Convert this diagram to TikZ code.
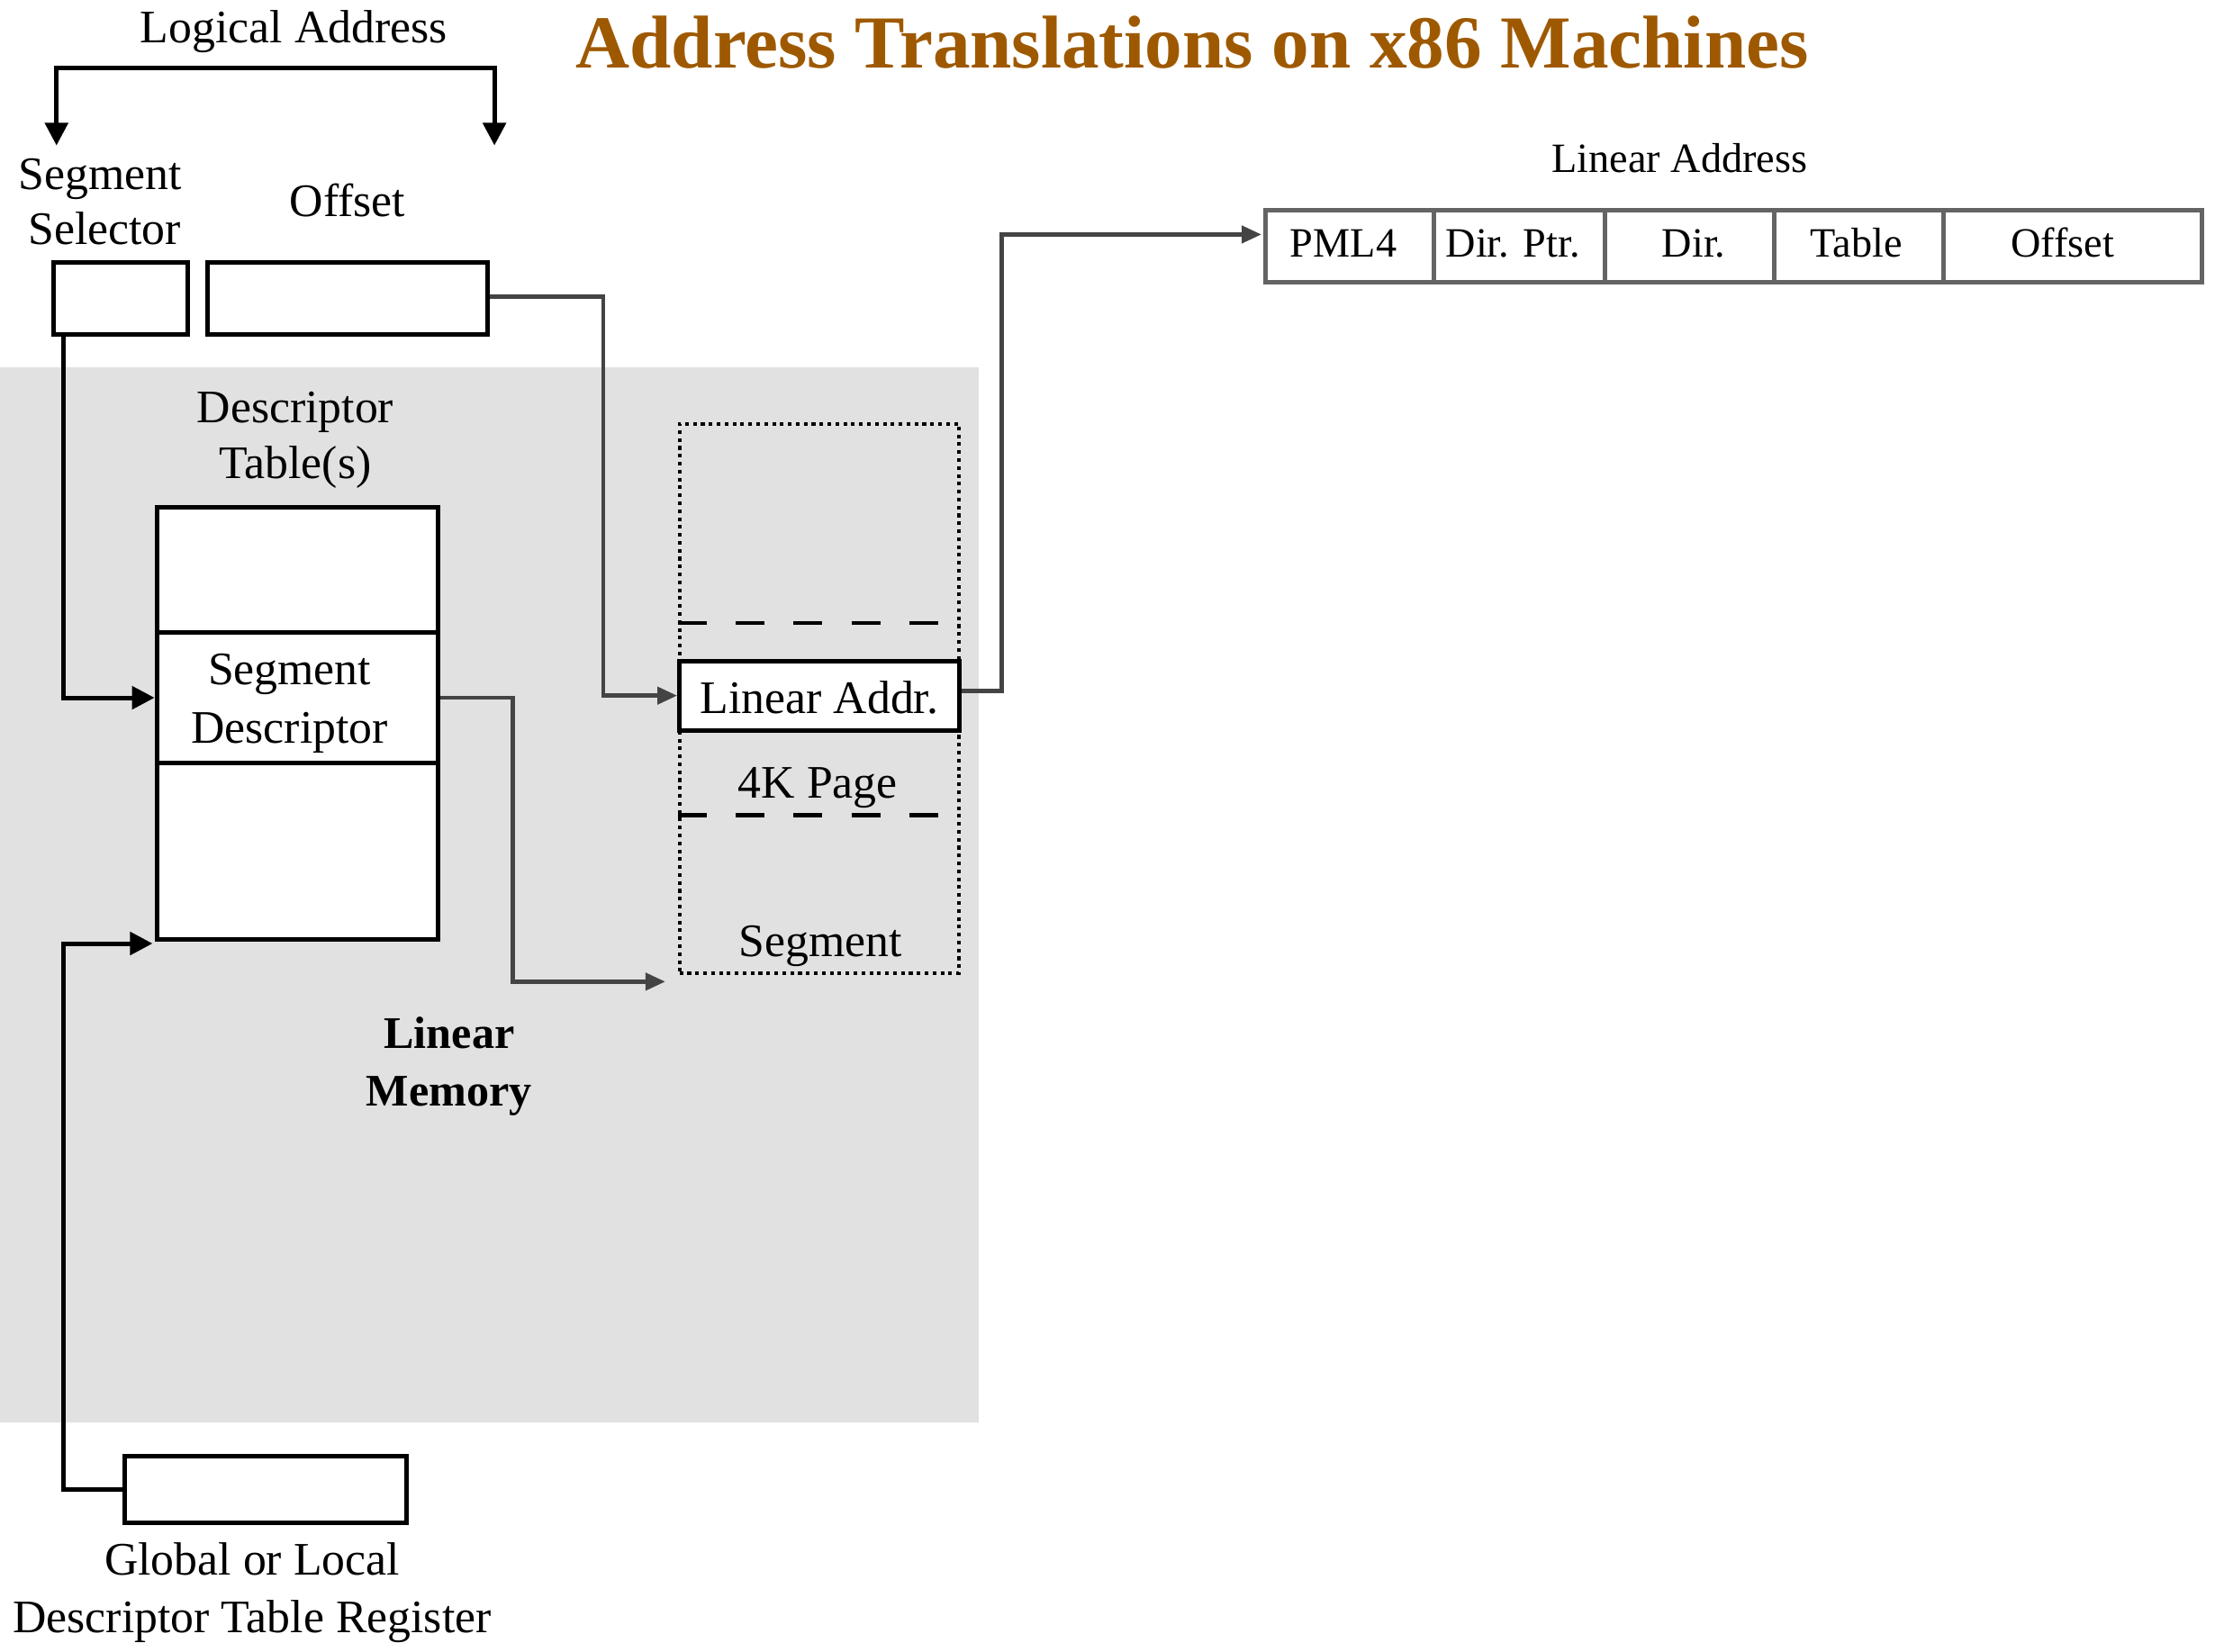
\documentclass[tikz,border=0pt]{standalone}
\usepackage{fontspec}
\setmainfont{Liberation Serif}
\usetikzlibrary{arrows.meta}

\definecolor{titlebrown}{RGB}{158,89,0}
\definecolor{memgray}{RGB}{225,225,225}
\definecolor{wiregray}{RGB}{68,68,68}
\definecolor{cellgray}{RGB}{100,100,100}

\begin{document}
\begin{tikzpicture}[x=1pt,y=-1pt,
  lbl/.style={font=\fontsize{33}{40}\selectfont, inner sep=0pt, anchor=base},
  boldlbl/.style={font=\fontsize{32}{40}\selectfont\bfseries, inner sep=0pt, anchor=base},
  small/.style={font=\fontsize{29.5}{33}\selectfont, inner sep=0pt, anchor=base},
  box/.style={draw=black, line width=3.2pt, fill=white, inner sep=0pt},
  cell/.style={draw=cellgray, line width=3.2pt, fill=white, inner sep=0pt, minimum height=51pt},
  blkarrow/.style={draw=black, line width=3.2pt, -{Triangle[length=16pt,width=16pt]}},
  grayarrow/.style={draw=wiregray, line width=3pt, -{Triangle[length=14pt,width=12pt]}},
]
\useasboundingbox (0,0) rectangle (1568,1169);

% linear memory area
\fill[memgray] (0,260) rectangle (693,1007);

% title
\node[font=\fontsize{53}{60}\selectfont\bfseries, text=titlebrown, inner sep=0pt, anchor=base]
  (title) at (844,48) {Address Translations on x86 Machines};

% logical address bracket
\node[lbl] (logical) at (208,30) {Logical Address};
\coordinate (lselL) at (40,103);
\coordinate (lselR) at (350,103);
\draw[draw=black, line width=3.2pt, {Triangle[length=16pt,width=16pt]}-{Triangle[length=16pt,width=16pt]}]
  (lselL) -- (40,48) -- (350,48) -- (lselR);

% selector and offset
\node[lbl] (segsel1) at (71,134) {Segment};
\node[lbl] (segsel2) at (74,173) {Selector};
\node[lbl] (offlbl) at (246,153) {Offset};
\node[box, minimum width=95pt, minimum height=51pt] (sel) at (85.5,211.5) {};
\node[box, minimum width=198pt, minimum height=51pt] (off) at (246,211.5) {};

% descriptor table
\node[lbl] (dt1) at (209,299) {Descriptor};
\node[lbl] (dt2) at (209,339) {Table(s)};
\node[box, minimum width=199pt, minimum height=89pt] (dtop) at (210.5,403.5) {};
\node[box, minimum width=199pt, minimum height=92pt] (sd) at (210.5,494) {};
\node[box, minimum width=199pt, minimum height=125pt] (dbot) at (210.5,602.5) {};
\node[lbl] (sd1) at (205,485) {Segment};
\node[lbl] (sd2) at (205,526) {Descriptor};

% linear memory label
\node[boldlbl] (lm1) at (318,742) {Linear};
\node[boldlbl] (lm2) at (318,783) {Memory};

% segment in linear memory
\node[draw=black, line width=2.6pt, dash pattern=on 2.6pt off 3pt, minimum width=198pt, minimum height=389pt, inner sep=0pt]
  (seg) at (580,494.5) {};
\draw[black, line width=3pt, dash pattern=on 20.5pt off 20.5pt] (seg.west |- 0,441) -- (seg.east |- 0,441);
\draw[black, line width=3pt, dash pattern=on 20.5pt off 20.5pt] (seg.west |- 0,577) -- (seg.east |- 0,577);
\node[box, minimum width=198pt, minimum height=49pt] (la) at (580,492.5) {};
\node[lbl] (latext) at (580,505) {Linear Addr.};
\node[lbl] (page) at (579,565) {4K Page};
\node[lbl] (segtext) at (581,677) {Segment};

% descriptor table register
\node[box, minimum width=200pt, minimum height=47pt] (reg) at (188,1054.5) {};
\node[lbl] (reg1) at (178.5,1115) {Global or Local};
\node[lbl] (reg2) at (178.5,1156) {Descriptor Table Register};

% linear address fields
\node[small] (linaddr) at (1189,122) {Linear Address};
\node[cell, minimum width=119pt] (pml) at (955.5,174.5) {};
\node[cell, minimum width=121pt] (dptr) at (1075.5,174.5) {};
\node[cell, minimum width=120pt] (dir) at (1196,174.5) {};
\node[cell, minimum width=120pt] (tab) at (1316,174.5) {};
\node[cell, minimum width=183pt] (loff) at (1467.5,174.5) {};
\node[small] at (951,182) {PML4};
\node[small] at (1071,182) {Dir. Ptr.};
\node[small] at (1199,182) {Dir.};
\node[small] at (1314,182) {Table};
\node[small] at (1460,182) {Offset};

% connectors
\coordinate (segtip) at (471,695);
\coordinate (gdtip) at (108,668);
\coordinate (latip) at (893,166);
\draw[grayarrow] ([yshift=1.5pt]off.east) -- (427,210) |- (la.west);
\draw[blkarrow] (45,237) |- (sd.west);
\draw[grayarrow] (sd.east) -- (363,494) |- (segtip);
\draw[blkarrow] (reg.west) -- (45,1054.5) |- (gdtip);
\draw[grayarrow] ([yshift=3.5pt]la.east) -- (709,489) |- (latip);
\end{tikzpicture}
\end{document}
